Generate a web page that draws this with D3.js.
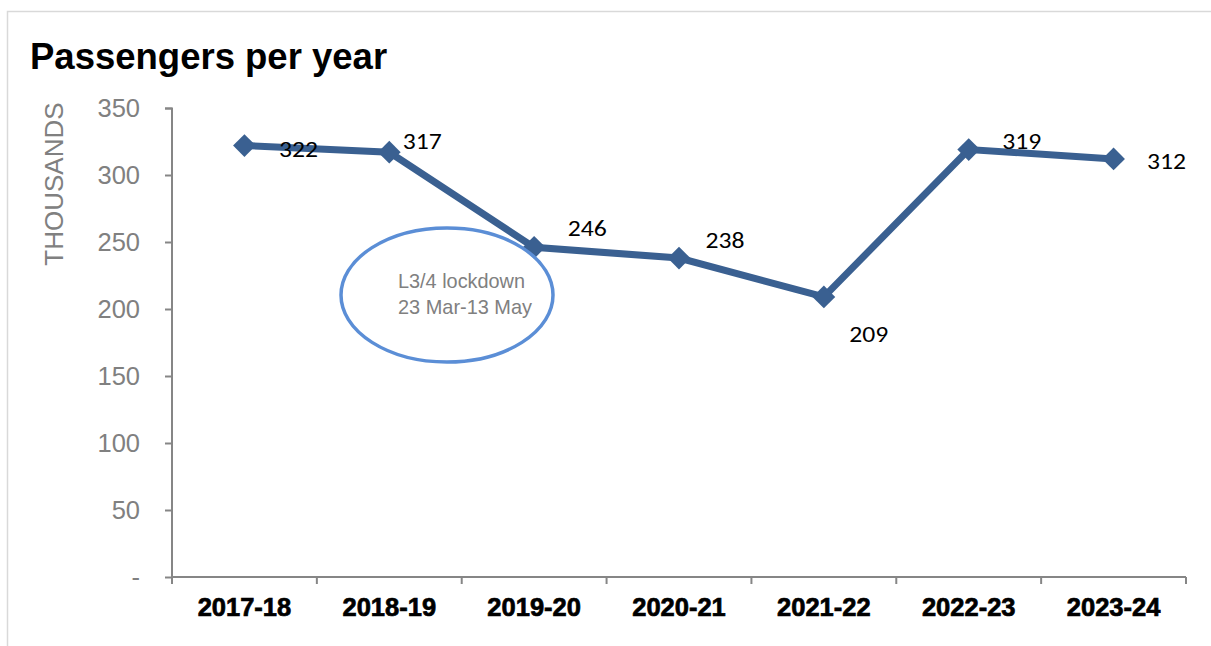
<!DOCTYPE html>
<html><head><meta charset="utf-8">
<script src="https://cdn.jsdelivr.net/npm/d3@7/dist/d3.min.js"></script>
<style>body{margin:0;background:#fff;} svg{display:block;}</style>
</head><body>
<svg id="c" width="1211" height="646"></svg>
<script>
const categories = ["2017-18","2018-19","2019-20","2020-21","2021-22","2022-23","2023-24"];
const passengers = [322, 317, 246, 238, 209, 319, 312];
const yTicks = [0, 50, 100, 150, 200, 250, 300, 350];
const yTickLabels = ["-", "50", "100", "150", "200", "250", "300", "350"];
const labelOffsets = [[54, 11], [33, -3], [53, -11], [46, -10], [45, 45], [53, -1], [53, 10]];

const svg = d3.select("#c");
svg.append("path").attr("d","M7.5,646 V11.5 H1211").attr("fill","none").attr("stroke","#d9d9d9").attr("stroke-width",1.5);

svg.append("text").attr("x",30).attr("y",69).attr("font-family","Liberation Sans, Arial, sans-serif")
  .attr("font-weight","bold").attr("font-size",36.5).attr("fill","#000").text("Passengers per year");

const x = d3.scaleBand().domain(categories).range([172,1186]);
const y = d3.scaleLinear().domain([0,350]).range([577,108]);

const gy = svg.append("g").attr("transform","translate(172,0)")
  .call(d3.axisLeft(y).tickValues(yTicks).tickSize(7).tickPadding(25).tickFormat((d,i)=>yTickLabels[i]));
gy.select(".domain").attr("stroke","#868686").attr("stroke-width",2).attr("d","M-7,108.5H0V577");
gy.selectAll(".tick line").attr("stroke","#868686").attr("stroke-width",2);
gy.selectAll(".tick text").attr("fill","#808080").attr("font-size",25.5).attr("font-family","Liberation Sans, Arial, sans-serif").attr("dy","0.33em");

const gx = svg.append("g").attr("transform","translate(0,577)")
  .call(d3.axisBottom(x).tickSize(0).tickPadding(21));
gx.select(".domain").attr("stroke","#868686").attr("stroke-width",2).attr("d","M172,0H1186");
gx.selectAll(".tick text").attr("fill","#000").attr("font-size",25.5).attr("font-weight","bold")
  .attr("font-family","Liberation Sans, Arial, sans-serif").attr("stroke","#000").attr("stroke-width",0.7);
const bounds = categories.map(c=>x(c)).concat([x.range()[1]]);
svg.append("g").selectAll("line").data(bounds).join("line")
  .attr("x1",d=>d).attr("x2",d=>d).attr("y1",577).attr("y2",584)
  .attr("stroke","#868686").attr("stroke-width",2);

svg.append("text").attr("transform","translate(63,184) rotate(-90)").attr("text-anchor","middle")
  .attr("font-family","Liberation Sans, Arial, sans-serif").attr("font-size",26).attr("fill","#808080").text("THOUSANDS");

const cx = c => x(c) + x.bandwidth()/2;
const line = d3.line().x((d,i)=>cx(categories[i])).y(d=>y(d));
svg.append("path").datum(passengers).attr("d",line).attr("fill","none")
  .attr("stroke","#3a6091").attr("stroke-width",7).attr("stroke-linejoin","miter");

svg.append("g").selectAll("path").data(passengers).join("path")
  .attr("transform",(d,i)=>`translate(${cx(categories[i])},${y(d)})`)
  .attr("d", d3.symbol().type(d3.symbolDiamond2).size(330)).attr("fill","#3a6091");

svg.append("g").selectAll("text").data(passengers).join("text")
  .attr("x",(d,i)=>cx(categories[i])+labelOffsets[i][0])
  .attr("y",(d,i)=>y(d)+labelOffsets[i][1])
  .attr("text-anchor","middle").attr("font-family","Carlito, Open Sans, sans-serif").attr("font-size",23)
  .attr("textLength",39).attr("lengthAdjust","spacingAndGlyphs")
  .attr("fill","#000").text(d=>d);

svg.append("ellipse").attr("cx",447).attr("cy",295).attr("rx",106).attr("ry",67)
  .attr("fill","none").attr("stroke","#5b8ed6").attr("stroke-width",3.5);
const ann = svg.append("g").attr("font-family","Liberation Sans, Arial, sans-serif")
  .attr("font-size",21).attr("fill","#808080").attr("text-anchor","start");
ann.append("text").attr("x",398).attr("y",288).attr("textLength",127).attr("lengthAdjust","spacingAndGlyphs").text("L3/4 lockdown");
ann.append("text").attr("x",398).attr("y",314).attr("textLength",134).attr("lengthAdjust","spacingAndGlyphs").text("23 Mar-13 May");
</script>
</body></html>
